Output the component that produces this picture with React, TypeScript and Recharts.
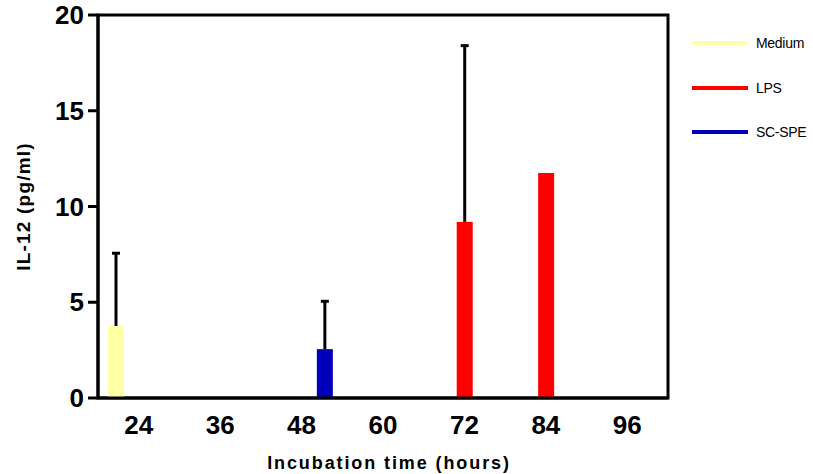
import React from 'react'
import { Bar, BarChart, Legend, ReferenceArea, XAxis, YAxis } from 'recharts'

const hours = ['24', '36', '48', '60', '72', '84', '96']
const medium = [3.76, 0, 0, 0, 0, 0, 0]
const mediumErr = [3.8, 0, 0, 0, 0, 0, 0]
const lps = [0, 0, 0, 0, 9.2, 11.75, 0]
const lpsErr = [0, 0, 0, 0, 9.2, 0, 0]
const scspe = [0, 0, 2.55, 0, 0, 0, 0]
const scspeErr = [0, 0, 2.5, 0, 0, 0, 0]
const yTicks = [0, 5, 10, 15, 20]

const series = [
  { key: 'medium', err: 'mediumErr', name: 'Medium', color: '#ffffa6' },
  { key: 'lps', err: 'lpsErr', name: 'LPS', color: '#ff0000' },
  { key: 'scspe', err: 'scspeErr', name: 'SC-SPE', color: '#0000bb' }
]

const data = hours.map((h, i) => ({
  hour: h,
  medium: medium[i],
  mediumErr: mediumErr[i],
  lps: lps[i],
  lpsErr: lpsErr[i],
  scspe: scspe[i],
  scspeErr: scspeErr[i]
}))

const font = '"Liberation Sans", Arial, sans-serif'

// bar rect plus an upper-only error whisker, scaled from the bar's own px/unit
function barWithError(errKey: string, valKey: string) {
  return (props: any) => {
    const { x, y, width, height, fill, payload } = props
    const v = payload[valKey]
    if (!v || !height) return <g />
    const err = payload[errKey] || 0
    const pxPerUnit = height / v
    const cx = x + width / 2
    const top = y - err * pxPerUnit
    return (
      <g>
        <rect x={x} y={y} width={width} height={height} fill={fill} />
        {err > 0 && (
          <g stroke="#000" strokeWidth={3}>
            <line x1={cx} y1={y} x2={cx} y2={top} />
            <line x1={cx - 4} y1={top} x2={cx + 4} y2={top} />
          </g>
        )}
      </g>
    )
  }
}

function LegendBox() {
  return (
    <div style={{ fontFamily: font, fontSize: 14, color: '#000' }}>
      {series.map((s) => (
        <div key={s.key} style={{ display: 'flex', alignItems: 'center', height: 44.5 }}>
          <span style={{ display: 'inline-block', width: 56, height: 4, background: s.color, marginRight: 8 }} />
          <span style={{ letterSpacing: -0.3 }}>{s.name}</span>
        </div>
      ))}
    </div>
  )
}

export default function App() {
  const axisStroke = { stroke: '#000', strokeWidth: 3 }
  return (
    <div style={{ position: 'absolute', left: 0, top: 0, background: '#fff' }}>
      <BarChart
        width={813}
        height={474}
        data={data}
        margin={{ top: 15, right: 145, bottom: 0, left: 0 }}
        barSize={16}
        barGap={7}
      >
        <XAxis
          dataKey="hour"
          height={76}
          axisLine={axisStroke}
          tickLine={false}
          tickMargin={12}
          tick={{ fill: '#000', fontSize: 26, fontWeight: 'bold', fontFamily: font }}
          label={{
            value: 'Incubation time (hours)',
            position: 'insideBottom',
            offset: 5,
            dx: 6,
            fill: '#000',
            fontSize: 18,
            fontWeight: 'bold',
            fontFamily: font,
            letterSpacing: 1.9
          }}
        />
        <YAxis
          width={98}
          domain={[0, 20]}
          ticks={yTicks}
          axisLine={axisStroke}
          tickLine={axisStroke}
          tickSize={10}
          tickMargin={4}
          tick={{ fill: '#000', fontSize: 26, fontWeight: 'bold', fontFamily: font }}
          label={{
            value: 'IL-12 (pg/ml)',
            angle: -90,
            position: 'center',
            dx: -26,
            fill: '#000',
            fontSize: 19,
            fontWeight: 'bold',
            fontFamily: font,
            letterSpacing: 1.2
          }}
        />
        <ReferenceArea y1={0} y2={20} fill="none" stroke="#000" strokeWidth={3} ifOverflow="visible" />
        <Legend
          layout="vertical"
          align="center"
          verticalAlign="middle"
          wrapperStyle={{ left: 692, top: 21, width: 121 }}
          content={() => <LegendBox />}
        />
        {series.map((s) => (
          <Bar
            key={s.key}
            dataKey={s.key}
            name={s.name}
            fill={s.color}
            isAnimationActive={false}
            shape={barWithError(s.err, s.key)}
          />
        ))}
      </BarChart>
    </div>
  )
}
